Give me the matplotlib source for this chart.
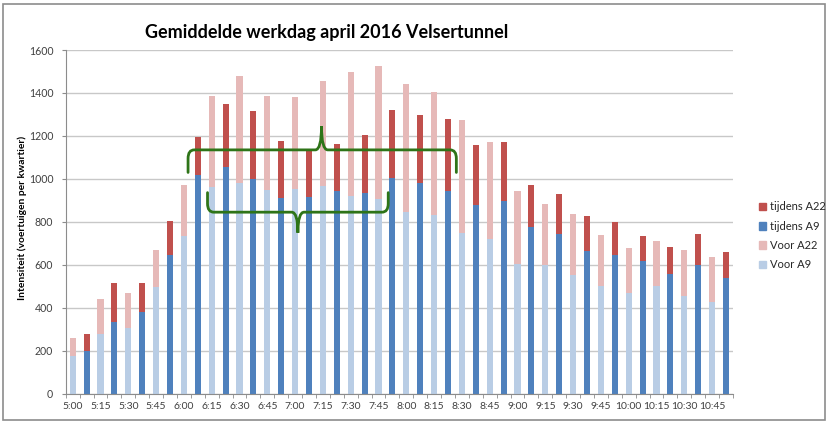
import matplotlib
matplotlib.use("Agg")
import matplotlib.pyplot as plt
from matplotlib.path import Path
from matplotlib.patches import PathPatch, Rectangle
import numpy as np

times = ["5:00", "5:15", "5:30", "5:45", "6:00", "6:15", "6:30", "6:45",
         "7:00", "7:15", "7:30", "7:45", "8:00", "8:15", "8:30", "8:45",
         "9:00", "9:15", "9:30", "9:45", "10:00", "10:15", "10:30", "10:45"]
voor_a9 = [177, 280, 308, 495, 732, 962, 979, 946, 953, 968, 920, 907,
           844, 831, 749, 718, 605, 598, 551, 500, 469, 503, 455, 428]
voor_a22 = [83, 162, 159, 176, 239, 422, 498, 438, 426, 489, 579, 617,
            599, 573, 523, 454, 340, 285, 285, 239, 211, 210, 214, 207]
tijdens_a9 = [199, 333, 380, 645, 1020, 1055, 998, 912, 917, 943, 932, 1004,
              981, 943, 878, 897, 775, 743, 663, 645, 617, 559, 601, 539]
tijdens_a22 = [80, 184, 137, 157, 175, 295, 317, 263, 216, 218, 271, 316,
               316, 335, 282, 274, 195, 185, 164, 155, 116, 124, 143, 121]

plt.rcParams['font.family'] = ['Lato', 'DejaVu Sans']

c_t22 = "#C0504D"
c_t9 = "#4F81BD"
c_v22 = "#E6B9B8"
c_v9 = "#B9CDE5"

fig = plt.figure(figsize=(8.3, 4.3), dpi=100)
ax = fig.add_axes([0.0792, 0.0845, 0.8039, 0.7992])

n = len(times)
xv = np.arange(n) * 2
xt = np.arange(n) * 2 + 1
w = 0.44
ax.bar(xv, voor_a9, w, color=c_v9, zorder=2)
ax.bar(xv, voor_a22, w, bottom=voor_a9, color=c_v22, zorder=2)
ax.bar(xt, tijdens_a9, w, color=c_t9, zorder=2)
ax.bar(xt, tijdens_a22, w, bottom=tijdens_a9, color=c_t22, zorder=2)

ax.set_xlim(-0.5, 2 * n - 0.5)
ax.set_ylim(0, 1600)
ax.set_yticks(np.arange(0, 1601, 200))
ax.set_xticks(xv)
ax.set_xticklabels(times)
ax.set_xticks(np.arange(-0.5, 2 * n, 1), minor=True)
ax.tick_params(axis='x', which='major', length=0, labelsize=7.5, colors='#404040', pad=6)
ax.tick_params(axis='x', which='minor', length=3, color='#8c8c8c', direction='out')
ax.tick_params(axis='y', length=3, color='#8c8c8c', labelsize=7.6, labelcolor='#404040', pad=6)
ax.grid(axis='y', color='#c8c8c8', linewidth=1.0, zorder=0)
ax.set_axisbelow(True)
for s in ['top', 'right']:
    ax.spines[s].set_visible(False)
for s in ['left', 'bottom']:
    ax.spines[s].set_color('#8c8c8c')
ax.set_ylabel("Intensiteit (voertuigen per kwartier)", fontsize=7.4, fontweight='bold')
ax.yaxis.set_label_coords(-0.058, 0.51)


def brace(x0, x1, xtip, yh, yend, ytip, rx=0.45, ry=40):
    sgn_end = 1 if yh > yend else -1
    verts = [(x0, yend), (x0, yh - sgn_end * ry), (x0, yh), (x0 + rx, yh),
             (xtip - rx, yh), (xtip, yh), (xtip, ytip),
             (xtip, yh), (xtip + rx, yh),
             (x1 - rx, yh), (x1, yh), (x1, yh - sgn_end * ry), (x1, yend)]
    codes = [Path.MOVETO, Path.LINETO, Path.CURVE3, Path.CURVE3,
             Path.LINETO, Path.CURVE3, Path.CURVE3,
             Path.CURVE3, Path.CURVE3,
             Path.LINETO, Path.CURVE3, Path.CURVE3, Path.LINETO]
    ax.add_patch(PathPatch(Path(verts, codes), fill=False, edgecolor='#2E7418',
                           linewidth=2.0, zorder=5, capstyle='round'))


brace(8.3, 27.6, 17.9, 1135, 1030, 1245)
brace(9.7, 22.7, 16.2, 845, 936, 749)

fig.text(0.175, 0.925, "Gemiddelde werkdag april 2016 Velsertunnel", fontsize=13,
         fontweight='bold', ha='left', va='center')

handles = [Rectangle((0, 0), 1, 1, color=c) for c in [c_t22, c_t9, c_v22, c_v9]]
labels = ["tijdens A22", "tijdens A9", "Voor A22", "Voor A9"]
fig.legend(handles, labels, loc='upper left', bbox_to_anchor=(0.902, 0.555),
           frameon=False, fontsize=8, handlelength=0.7, handleheight=0.7,
           handletextpad=0.3, labelspacing=0.75, labelcolor='#262626')

fig.add_artist(Rectangle((0.004, 0.023), 0.99, 0.967, transform=fig.transFigure,
                         fill=False, edgecolor='#8c8c8c', linewidth=1.2))

fig.savefig("out.png", dpi=100)
